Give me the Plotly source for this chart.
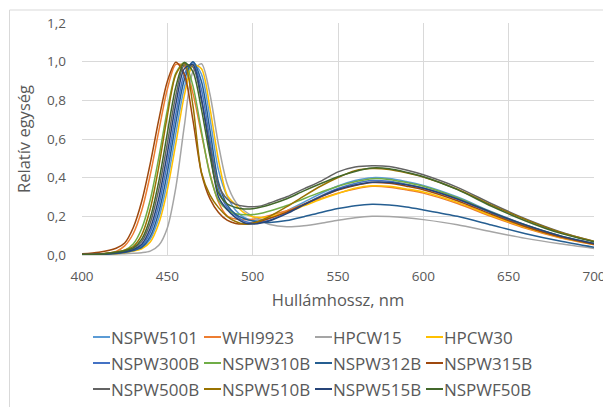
import plotly.graph_objects as go

wavelength = [400, 410, 420, 425, 430, 435, 440, 445, 450, 455, 460, 465, 470, 475, 480, 485,
              490, 495, 500, 505, 510, 520, 530, 540, 550, 560, 570, 580, 590, 600, 620, 640,
              660, 680, 700]

NSPW5101 = [0.003, 0.004, 0.008, 0.013, 0.022, 0.036, 0.082, 0.191, 0.379, 0.630, 0.868, 0.995,
            0.935, 0.706, 0.438, 0.305, 0.232, 0.194, 0.179, 0.182, 0.191, 0.228, 0.273, 0.318,
            0.357, 0.385, 0.400, 0.396, 0.380, 0.360, 0.300, 0.224, 0.156, 0.100, 0.060]
WHI9923 = [0.003, 0.005, 0.019, 0.047, 0.110, 0.230, 0.415, 0.642, 0.857, 0.986, 0.977, 0.836,
           0.625, 0.419, 0.273, 0.203, 0.186, 0.183, 0.185, 0.193, 0.205, 0.229, 0.262, 0.293,
           0.320, 0.341, 0.355, 0.351, 0.337, 0.320, 0.266, 0.199, 0.138, 0.089, 0.053]
HPCW15 = [0.002, 0.003, 0.005, 0.007, 0.009, 0.012, 0.020, 0.050, 0.140, 0.350, 0.670, 0.947,
          0.989, 0.830, 0.570, 0.370, 0.275, 0.230, 0.200, 0.176, 0.158, 0.146, 0.151, 0.164,
          0.180, 0.193, 0.200, 0.199, 0.193, 0.183, 0.157, 0.120, 0.086, 0.058, 0.034]
HPCW30 = [0.003, 0.003, 0.007, 0.012, 0.020, 0.032, 0.067, 0.163, 0.336, 0.577, 0.827, 0.983,
          0.963, 0.758, 0.490, 0.310, 0.260, 0.218, 0.198, 0.194, 0.198, 0.221, 0.254, 0.288,
          0.318, 0.345, 0.358, 0.355, 0.342, 0.326, 0.272, 0.204, 0.142, 0.092, 0.055]
NSPW300B = [0.003, 0.004, 0.009, 0.016, 0.026, 0.046, 0.117, 0.257, 0.475, 0.731, 0.937, 0.996,
            0.856, 0.592, 0.342, 0.247, 0.205, 0.175, 0.166, 0.170, 0.180, 0.218, 0.262, 0.306,
            0.344, 0.370, 0.385, 0.381, 0.366, 0.347, 0.289, 0.216, 0.150, 0.096, 0.058]
NSPW310B = [0.003, 0.004, 0.015, 0.025, 0.057, 0.137, 0.286, 0.504, 0.749, 0.941, 0.996, 0.875,
            0.640, 0.412, 0.282, 0.235, 0.213, 0.208, 0.209, 0.216, 0.228, 0.256, 0.291, 0.325,
            0.356, 0.379, 0.395, 0.391, 0.375, 0.356, 0.296, 0.221, 0.154, 0.099, 0.059]
NSPW312B = [0.003, 0.004, 0.008, 0.013, 0.023, 0.039, 0.096, 0.222, 0.426, 0.685, 0.908, 1.000,
            0.897, 0.644, 0.376, 0.260, 0.210, 0.188, 0.176, 0.170, 0.168, 0.178, 0.198, 0.220,
            0.240, 0.255, 0.262, 0.258, 0.248, 0.233, 0.200, 0.155, 0.110, 0.072, 0.040]
NSPW315B = [0.006, 0.014, 0.035, 0.062, 0.141, 0.278, 0.474, 0.700, 0.898, 0.997, 0.933, 0.698,
            0.423, 0.290, 0.220, 0.180, 0.163, 0.160, 0.164, 0.176, 0.190, 0.222, 0.262, 0.302,
            0.336, 0.360, 0.375, 0.371, 0.356, 0.338, 0.281, 0.210, 0.146, 0.094, 0.056]
NSPW500B = [0.003, 0.004, 0.013, 0.020, 0.034, 0.069, 0.166, 0.339, 0.577, 0.827, 0.983, 0.972,
            0.800, 0.563, 0.360, 0.290, 0.262, 0.252, 0.249, 0.254, 0.269, 0.301, 0.342, 0.382,
            0.430, 0.455, 0.462, 0.458, 0.440, 0.415, 0.350, 0.265, 0.186, 0.120, 0.070]
NSPW510B = [0.003, 0.004, 0.015, 0.025, 0.044, 0.104, 0.239, 0.457, 0.720, 0.934, 0.992, 0.773,
            0.427, 0.310, 0.245, 0.200, 0.173, 0.160, 0.164, 0.180, 0.200, 0.250, 0.305, 0.357,
            0.401, 0.436, 0.447, 0.442, 0.425, 0.403, 0.340, 0.258, 0.183, 0.118, 0.071]
NSPW515B = [0.003, 0.004, 0.010, 0.017, 0.028, 0.055, 0.138, 0.294, 0.525, 0.782, 0.964, 0.984,
            0.808, 0.536, 0.300, 0.235, 0.193, 0.167, 0.160, 0.165, 0.177, 0.214, 0.259, 0.302,
            0.339, 0.362, 0.376, 0.375, 0.363, 0.345, 0.290, 0.220, 0.155, 0.100, 0.060]
NSPWF50B = [0.003, 0.004, 0.014, 0.022, 0.037, 0.082, 0.193, 0.381, 0.631, 0.870, 0.996, 0.948,
            0.753, 0.511, 0.321, 0.265, 0.246, 0.238, 0.239, 0.248, 0.260, 0.291, 0.332, 0.370,
            0.405, 0.432, 0.450, 0.446, 0.428, 0.405, 0.338, 0.252, 0.176, 0.113, 0.068]

series_names = ["NSPW5101", "WHI9923", "HPCW15", "HPCW30",
                "NSPW300B", "NSPW310B", "NSPW312B", "NSPW315B",
                "NSPW500B", "NSPW510B", "NSPW515B", "NSPWF50B"]
series_values = [NSPW5101, WHI9923, HPCW15, HPCW30,
                 NSPW300B, NSPW310B, NSPW312B, NSPW315B,
                 NSPW500B, NSPW510B, NSPW515B, NSPWF50B]
colors = ["#5B9BD5", "#ED7D31", "#A5A5A5", "#FFC000",
          "#4472C4", "#70AD47", "#255E91", "#9E480E",
          "#636363", "#997300", "#264478", "#43682B"]

x_ticks = [400, 450, 500, 550, 600, 650, 700]
y_ticks = [0.0, 0.2, 0.4, 0.6, 0.8, 1.0, 1.2]

FONT = "'Open Sans', Lato, sans-serif"
TXT = "#595959"
GRID = "#D9D9D9"

fig = go.Figure()
for name, vals, col in zip(series_names, series_values, colors):
    fig.add_trace(go.Scatter(
        x=wavelength, y=vals, name=name, mode="lines",
        line=dict(color=col, width=1.5, shape="spline", smoothing=0.8),
    ))

W, H = 603, 407
L, R, T, B = 82, 9, 23, 152
pw, ph = W - L - R, H - T - B

def px_x(px):
    return (px - L) / pw

def px_y(py):
    return (H - B - py) / ph

# legend drawn as short line samples + text, Excel style (4 columns x 3 rows)
leg_cols = [93, 204, 315, 426]
leg_rows = [337, 363, 389]
shapes = [
    dict(type="line", xref="paper", yref="paper",
         x0=px_x(9.5), x1=px_x(9.5), y0=px_y(10), y1=px_y(420),
         line=dict(color=GRID, width=1)),
    dict(type="line", xref="paper", yref="paper",
         x0=px_x(9.5), x1=px_x(620), y0=px_y(10), y1=px_y(10),
         line=dict(color=GRID, width=1)),
]
annotations = []
for i, (name, col) in enumerate(zip(series_names, colors)):
    cx = leg_cols[i % 4]
    cy = leg_rows[i // 4]
    shapes.append(dict(type="line", xref="paper", yref="paper",
                       x0=px_x(cx), x1=px_x(cx + 17), y0=px_y(cy), y1=px_y(cy),
                       line=dict(color=col, width=2)))
    annotations.append(dict(text=name, xref="paper", yref="paper",
                            x=px_x(cx + 17), y=px_y(cy), xanchor="left", yanchor="middle",
                            showarrow=False, borderpad=0,
                            font=dict(family=FONT, size=17, color=TXT)))

fig.update_layout(
    template="none",
    width=W, height=H,
    margin=dict(l=L, r=R, t=T, b=B, pad=0, autoexpand=False),
    paper_bgcolor="white", plot_bgcolor="white",
    separators=", ",
    font=dict(family=FONT, size=14, color=TXT),
    showlegend=False,
    xaxis=dict(
        range=[400, 700], tickvals=x_ticks, automargin=False,
        showgrid=True, gridcolor=GRID, gridwidth=1,
        showline=True, linecolor=GRID, linewidth=1,
        zeroline=False, ticks="", ticklen=0,
        ticklabeloverflow="allow", ticklabelstandoff=9,
        tickfont=dict(family=FONT, size=13.5, color=TXT),
        title=dict(text="Hullámhossz, nm", standoff=10,
                   font=dict(family=FONT, size=16.5, color=TXT)),
    ),
    yaxis=dict(
        range=[0, 1.2], tickvals=y_ticks, tickformat=".1f", automargin=False,
        showgrid=True, gridcolor=GRID, gridwidth=1,
        zeroline=False, showline=False, ticks="",
        ticklabelstandoff=15,
        tickfont=dict(family=FONT, size=13.5, color=TXT),
        title=dict(text="Relatív egység", standoff=12,
                   font=dict(family=FONT, size=16.5, color=TXT)),
    ),
    shapes=shapes,
    annotations=annotations,
)

fig.write_html("out.html")
